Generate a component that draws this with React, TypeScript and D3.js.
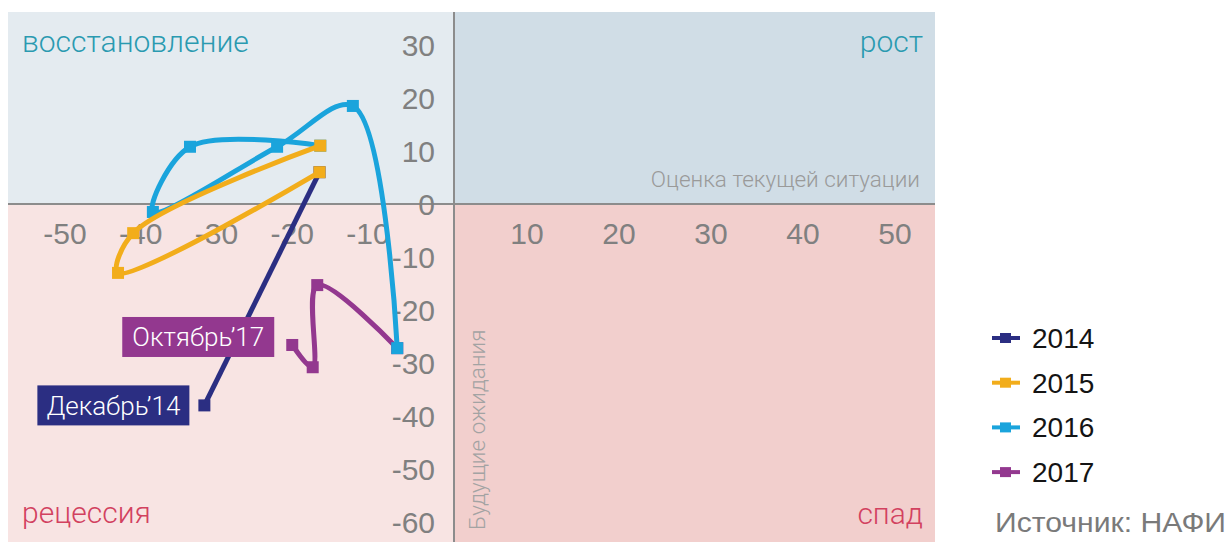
import React from 'react';
import * as d3 from 'd3';

// данные: оценка текущей ситуации (x) и будущие ожидания (y)
const years = ['2014', '2015', '2016', '2017'];
const colors = ['#2b2e82', '#f2ad1b', '#1aa4dc', '#93388f'];

const x2014 = [-31.6, -16.4];
const y2014 = [-38, 6];
const x2015 = [-16.4, -43, -41, -16.3];
const y2015 = [6, -13, -5.5, 11];
const x2016 = [-16.3, -33.5, -38.4, -22, -12, -6.6];
const y2016 = [11, 10.8, -1.5, 10.8, 18.5, -27.2];
const x2017 = [-6.6, -16.7, -17.3, -20];
const y2017 = [-27.2, -15.3, -30.8, -26.6];

const xTicks = [-50, -40, -30, -20, -10, 10, 20, 30, 40, 50];
const yTicks = [30, 20, 10, 0, -10, -20, -30, -40, -50, -60];

const quadrantLabels = ['восстановление', 'рост', 'рецессия', 'спад'];
const xTitle = 'Оценка текущей ситуации';
const yTitle = 'Будущие ожидания';
const startLabel = 'Декабрь’14';
const endLabel = 'Октябрь’17';
const source = 'Источник: НАФИ';

const W = 1228;
const H = 543;
const plot = {left: 8, right: 935, top: 12, bottom: 542};

const App = () => {
    // ось x в оригинале неравномерная, поэтому кусочная шкала
    const x = d3.scaleLinear()
        .domain([-50, -10, 0, 10, 50])
        .range([65, 368, 454, 527, 895]);
    const y = d3.scaleLinear()
        .domain([-60, 30])
        .range([522, 45]);

    const series = [
        {name: years[0], color: colors[0], xs: x2014, ys: y2014},
        {name: years[1], color: colors[1], xs: x2015, ys: y2015},
        {name: years[2], color: colors[2], xs: x2016, ys: y2016},
        {name: years[3], color: colors[3], xs: x2017, ys: y2017},
    ];
    // порядок отрисовки: 2017 снизу, 2015 сверху
    const drawOrder = [3, 2, 0, 1];

    const lineGen = d3.line<[number, number]>()
        .x(d => x(d[0]))
        .y(d => y(d[1]))
        .curve(d3.curveCatmullRom.alpha(0.5));

    const x0 = x(0);
    const y0 = y(0);
    const m = 12; // размер маркера

    const light = 'Roboto, sans-serif';
    const tickFont = '"Liberation Sans", Arial, sans-serif';

    const s14 = series[0];
    const s17 = series[3];
    const decX = x(s14.xs[0]);
    const decY = y(s14.ys[0]);
    const octX = x(s17.xs[s17.xs.length - 1]);
    const octY = y(s17.ys[s17.ys.length - 1]);

    return (
        <svg width={W} height={H} style={{position: 'absolute', left: 0, top: 0, display: 'block'}}>
            <rect x={0} y={0} width={W} height={H} fill="#ffffff"/>
            {/* квадранты */}
            <rect x={plot.left} y={plot.top} width={x0 - plot.left} height={y0 - plot.top} fill="#e4ebf0"/>
            <rect x={x0} y={plot.top} width={plot.right - x0} height={y0 - plot.top} fill="#d0dde6"/>
            <rect x={plot.left} y={y0} width={x0 - plot.left} height={plot.bottom - y0} fill="#f8e4e3"/>
            <rect x={x0} y={y0} width={plot.right - x0} height={plot.bottom - y0} fill="#f2cfcd"/>

            <line x1={plot.left} x2={plot.right} y1={y0} y2={y0} stroke="#8c8c8c" strokeWidth={2}/>
            <line x1={x0} x2={x0} y1={plot.top} y2={plot.bottom} stroke="#8c8c8c" strokeWidth={2}/>

            {/* подписи квадрантов */}
            <g fontFamily={light} fontWeight={300} fontSize={30}>
                <text x={22} y={52} fill="#2a9ab0">{quadrantLabels[0]}</text>
                <text x={923} y={52} fill="#2a9ab0" textAnchor="end">{quadrantLabels[1]}</text>
                <text x={22} y={523} fill="#d2415f">{quadrantLabels[2]}</text>
                <text x={923} y={524} fill="#d2415f" textAnchor="end">{quadrantLabels[3]}</text>
            </g>

            <text x={920} y={187} fill="#9a9a9a" fontFamily={light} fontWeight={300} fontSize={22.5}
                  textAnchor="end">{xTitle}</text>
            <text transform={`translate(${x0 + 31},530) rotate(-90)`} fill="#a3a3a3" fontFamily={light}
                  fontWeight={300} fontSize={22.5}>{yTitle}</text>

            {/* подписи осей */}
            <g fontFamily={tickFont} fontSize={30} fill="#808080">
                {yTicks.map(t => (
                    <text key={'y' + t} x={x0 - 19} y={y(t)} dy="0.35em" textAnchor="end">{t}</text>
                ))}
                {xTicks.map(t => (
                    <text key={'x' + t} x={x(t)} y={y0 + 29} dy="0.35em" textAnchor="middle">{t}</text>
                ))}
            </g>

            {/* линии */}
            {drawOrder.map(i => {
                const s = series[i];
                const pts: [number, number][] = s.xs.map((v, j) => [v, s.ys[j]]);
                return (
                    <g key={s.name}>
                        <path d={lineGen(pts) || ''} fill="none" stroke={s.color} strokeWidth={5}
                              strokeLinejoin="round"/>
                        {pts.map((p, j) => (
                            <rect key={j} x={x(p[0]) - m / 2} y={y(p[1]) - m / 2} width={m} height={m}
                                  fill={s.color}/>
                        ))}
                    </g>
                );
            })}

            {/* выноски */}
            <rect x={decX - 15 - 152} y={decY - 20} width={152} height={40} fill={colors[0]}/>
            <text x={decX - 15 - 76} y={decY} dy="0.35em" textAnchor="middle" fill="#ffffff"
                  fontFamily={light} fontWeight={300} fontSize={26}>{startLabel}</text>
            <rect x={octX - 18 - 152} y={octY - 28} width={152} height={40} fill={colors[3]}/>
            <text x={octX - 18 - 76} y={octY - 8} dy="0.35em" textAnchor="middle" fill="#ffffff"
                  fontFamily={light} fontWeight={300} fontSize={26}>{endLabel}</text>

            {/* легенда */}
            {series.map((s, i) => {
                const ly = 338 + i * 44.7;
                return (
                    <g key={'lg' + s.name}>
                        <line x1={992} x2={1020} y1={ly} y2={ly} stroke={s.color} strokeWidth={4}/>
                        <rect x={1000} y={ly - 5} width={11} height={10} fill={s.color}/>
                        <text x={1032} y={ly} dy="0.36em" fontFamily={tickFont} fontSize={28}
                              fill="#141414">{s.name}</text>
                    </g>
                );
            })}
            <text x={995} y={532} fontFamily={tickFont} fontSize={28} fill="#7a7a7a" textLength={231}
                  lengthAdjust="spacingAndGlyphs">{source}</text>
        </svg>
    );
};

export default App;
